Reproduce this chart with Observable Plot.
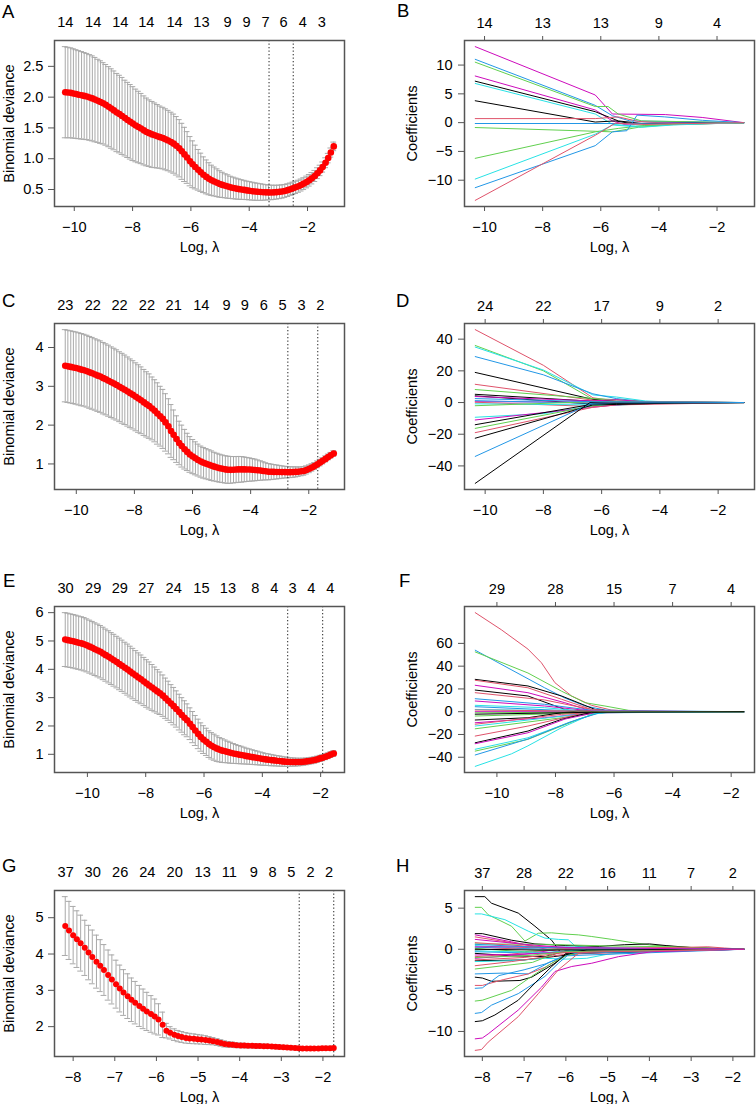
<!DOCTYPE html>
<html><head><meta charset="utf-8">
<script src="https://cdn.jsdelivr.net/npm/d3@7"></script>
<script src="https://cdn.jsdelivr.net/npm/@observablehq/plot@0.6"></script>
<style>
body{margin:0;background:#fff;}
#wrap{position:relative;width:756px;height:1104px;overflow:hidden;background:#fff;}
#wrap svg{position:absolute;overflow:visible;}
</style></head><body><div id="wrap"></div>
<script>
// ---------- Panel A (cross-validation) ----------
const aLogLambda = [-10.31,-10.22,-10.12,-10.03,-9.94,-9.85,-9.75,-9.66,-9.57,-9.47,
-9.38,-9.29,-9.19,-9.10,-9.01,-8.92,-8.82,-8.73,-8.64,-8.54,
-8.45,-8.36,-8.26,-8.17,-8.08,-7.99,-7.89,-7.80,-7.71,-7.61,
-7.52,-7.43,-7.33,-7.24,-7.15,-7.06,-6.96,-6.87,-6.78,-6.68,
-6.59,-6.50,-6.40,-6.31,-6.22,-6.13,-6.03,-5.94,-5.85,-5.75,
-5.66,-5.57,-5.47,-5.38,-5.29,-5.20,-5.10,-5.01,-4.92,-4.82,
-4.73,-4.64,-4.54,-4.45,-4.36,-4.27,-4.17,-4.08,-3.99,-3.89,
-3.80,-3.71,-3.61,-3.52,-3.43,-3.34,-3.24,-3.15,-3.06,-2.96,
-2.87,-2.78,-2.68,-2.59,-2.50,-2.41,-2.31,-2.22,-2.13,-2.03,
-1.94,-1.85,-1.75,-1.66,-1.57,-1.48,-1.38,-1.29,-1.20,-1.10];
const aMean = [2.08,2.075,2.07,2.06,2.05,2.04,2.03,2.02,2.01,1.995,
1.98,1.96,1.94,1.92,1.90,1.875,1.845,1.815,1.785,1.75,
1.725,1.695,1.66,1.63,1.60,1.57,1.54,1.515,1.49,1.46,
1.435,1.415,1.395,1.38,1.365,1.35,1.335,1.315,1.295,1.27,
1.245,1.21,1.17,1.12,1.07,1.02,0.96,0.91,0.865,0.82,
0.78,0.74,0.705,0.675,0.65,0.63,0.61,0.59,0.575,0.56,
0.548,0.535,0.525,0.515,0.507,0.50,0.494,0.486,0.48,0.473,
0.467,0.463,0.459,0.456,0.454,0.453,0.452,0.454,0.457,0.462,
0.468,0.477,0.49,0.505,0.52,0.535,0.553,0.573,0.595,0.622,
0.65,0.683,0.72,0.765,0.81,0.865,0.935,1.01,1.10,1.20];
const aSd = [0.74,0.735,0.73,0.725,0.72,0.715,0.71,0.705,0.70,0.695,
0.69,0.685,0.675,0.67,0.66,0.655,0.65,0.645,0.64,0.635,
0.63,0.625,0.615,0.61,0.605,0.60,0.59,0.58,0.57,0.56,
0.55,0.54,0.535,0.525,0.515,0.505,0.50,0.495,0.49,0.485,
0.48,0.475,0.465,0.455,0.44,0.42,0.40,0.38,0.355,0.33,
0.31,0.29,0.275,0.26,0.245,0.235,0.225,0.215,0.205,0.195,
0.19,0.18,0.175,0.17,0.165,0.16,0.155,0.15,0.148,0.145,
0.142,0.138,0.135,0.13,0.125,0.12,0.118,0.115,0.112,0.11,
0.108,0.105,0.103,0.10,0.10,0.10,0.098,0.097,0.096,0.095,
0.094,0.092,0.09,0.088,0.085,0.082,0.08,0.077,0.074,0.07];
const aLambdaLines = [-3.32, -2.49];
const aTopAt = [-10.31,-9.35,-8.42,-7.53,-6.56,-5.64,-4.74,-4.09,-3.44,-2.82,-2.16,-1.51];
const aTopLab = ["14","14","14","14","14","13","9","9","7","6","4","3"];
const aYTicks = [0.5,1.0,1.5,2.0,2.5];

// ---------- Panel C ----------
const cLogLambda = [-10.38,-10.29,-10.19,-10.10,-10.01,-9.91,-9.82,-9.73,-9.63,-9.54,
-9.45,-9.35,-9.26,-9.17,-9.07,-8.98,-8.89,-8.79,-8.70,-8.61,
-8.51,-8.42,-8.33,-8.23,-8.14,-8.05,-7.95,-7.86,-7.77,-7.67,
-7.58,-7.49,-7.39,-7.30,-7.21,-7.11,-7.02,-6.93,-6.83,-6.74,
-6.65,-6.55,-6.46,-6.37,-6.27,-6.18,-6.09,-5.99,-5.90,-5.81,
-5.71,-5.62,-5.53,-5.43,-5.34,-5.25,-5.15,-5.06,-4.97,-4.87,
-4.78,-4.69,-4.59,-4.50,-4.41,-4.31,-4.22,-4.13,-4.03,-3.94,
-3.85,-3.76,-3.66,-3.57,-3.48,-3.38,-3.29,-3.20,-3.10,-3.01,
-2.92,-2.82,-2.73,-2.64,-2.54,-2.45,-2.36,-2.26,-2.17,-2.08,
-1.98,-1.89,-1.80,-1.70,-1.61,-1.52,-1.42,-1.33,-1.24,-1.14];
const cMean = [3.53,3.515,3.50,3.485,3.47,3.45,3.43,3.415,3.39,3.36,
3.335,3.305,3.275,3.25,3.21,3.18,3.145,3.105,3.07,3.035,
2.99,2.95,2.91,2.865,2.82,2.78,2.73,2.685,2.64,2.585,
2.535,2.49,2.43,2.37,2.30,2.23,2.16,2.07,1.97,1.85,
1.75,1.64,1.54,1.46,1.38,1.31,1.245,1.19,1.145,1.10,
1.06,1.03,1.005,0.98,0.955,0.93,0.91,0.89,0.875,0.86,
0.85,0.848,0.85,0.855,0.86,0.86,0.86,0.858,0.855,0.85,
0.845,0.838,0.83,0.82,0.81,0.80,0.797,0.795,0.793,0.792,
0.79,0.79,0.788,0.788,0.79,0.795,0.80,0.81,0.82,0.845,
0.875,0.91,0.945,0.99,1.035,1.08,1.13,1.18,1.225,1.27];
const cSd = [0.93,0.93,0.93,0.93,0.93,0.93,0.93,0.925,0.925,0.925,
0.925,0.92,0.92,0.92,0.92,0.915,0.915,0.91,0.91,0.905,
0.90,0.90,0.895,0.89,0.885,0.88,0.875,0.87,0.86,0.85,
0.84,0.83,0.81,0.80,0.79,0.77,0.76,0.74,0.71,0.68,
0.64,0.60,0.56,0.54,0.51,0.48,0.46,0.44,0.425,0.41,
0.40,0.395,0.39,0.385,0.38,0.37,0.365,0.36,0.355,0.352,
0.35,0.345,0.34,0.336,0.333,0.33,0.32,0.31,0.30,0.29,
0.28,0.265,0.25,0.235,0.22,0.21,0.20,0.19,0.18,0.17,
0.16,0.15,0.145,0.14,0.135,0.13,0.12,0.115,0.11,0.105,
0.10,0.095,0.09,0.088,0.085,0.08,0.078,0.075,0.072,0.07];
const cLambdaLines = [-2.72, -1.69];
const cTopAt = [-10.38,-9.43,-8.51,-7.57,-6.65,-5.70,-4.83,-4.20,-3.55,-2.90,-2.25,-1.60];
const cTopLab = ["23","22","22","22","21","14","9","9","6","5","3","2"];
const cYTicks = [1,2,3,4];

// ---------- Panel E ----------
const eLogLambda = [-10.76,-10.67,-10.57,-10.48,-10.39,-10.30,-10.20,-10.11,-10.02,-9.92,
-9.83,-9.74,-9.64,-9.55,-9.46,-9.37,-9.27,-9.18,-9.09,-8.99,
-8.90,-8.81,-8.71,-8.62,-8.53,-8.44,-8.34,-8.25,-8.16,-8.06,
-7.97,-7.88,-7.78,-7.69,-7.60,-7.51,-7.41,-7.32,-7.23,-7.13,
-7.04,-6.95,-6.85,-6.76,-6.67,-6.58,-6.48,-6.39,-6.30,-6.20,
-6.11,-6.02,-5.92,-5.83,-5.74,-5.65,-5.55,-5.46,-5.37,-5.27,
-5.18,-5.09,-4.99,-4.90,-4.81,-4.72,-4.62,-4.53,-4.44,-4.34,
-4.25,-4.16,-4.06,-3.97,-3.88,-3.79,-3.69,-3.60,-3.51,-3.41,
-3.32,-3.23,-3.13,-3.04,-2.95,-2.86,-2.76,-2.67,-2.58,-2.48,
-2.39,-2.30,-2.20,-2.11,-2.02,-1.93,-1.83,-1.74,-1.65,-1.55];
const eMean = [5.05,5.03,5.01,4.99,4.965,4.94,4.915,4.885,4.845,4.80,
4.76,4.71,4.665,4.62,4.56,4.50,4.44,4.38,4.32,4.255,
4.19,4.125,4.055,3.99,3.92,3.85,3.78,3.71,3.645,3.57,
3.50,3.43,3.36,3.29,3.22,3.155,3.07,2.98,2.89,2.79,
2.70,2.60,2.49,2.39,2.29,2.20,2.08,1.96,1.84,1.72,
1.61,1.52,1.44,1.36,1.30,1.25,1.20,1.16,1.13,1.105,
1.08,1.055,1.03,1.01,0.99,0.975,0.955,0.935,0.92,0.90,
0.885,0.87,0.85,0.835,0.82,0.81,0.795,0.785,0.772,0.762,
0.752,0.742,0.735,0.73,0.727,0.725,0.726,0.73,0.738,0.75,
0.765,0.78,0.80,0.825,0.855,0.88,0.915,0.95,0.99,1.03];
const eSd = [0.95,0.95,0.945,0.945,0.945,0.94,0.94,0.94,0.935,0.935,
0.93,0.93,0.93,0.925,0.925,0.92,0.92,0.915,0.915,0.91,
0.91,0.905,0.90,0.90,0.895,0.89,0.88,0.87,0.86,0.85,
0.84,0.83,0.81,0.79,0.77,0.75,0.73,0.71,0.69,0.67,
0.66,0.64,0.63,0.61,0.60,0.58,0.56,0.55,0.53,0.52,
0.50,0.49,0.48,0.47,0.465,0.46,0.45,0.43,0.42,0.40,
0.38,0.37,0.35,0.335,0.32,0.31,0.295,0.28,0.27,0.26,
0.25,0.24,0.23,0.22,0.21,0.205,0.20,0.19,0.185,0.18,
0.175,0.165,0.16,0.15,0.145,0.14,0.135,0.13,0.125,0.12,
0.118,0.115,0.113,0.11,0.108,0.106,0.104,0.102,0.101,0.10];
const eLambdaLines = [-3.13, -1.93];
const eTopAt = [-10.75,-9.80,-8.89,-7.98,-7.04,-6.09,-5.18,-4.24,-3.59,-2.96,-2.32,-1.67];
const eTopLab = ["30","29","29","27","24","15","13","8","4","3","4","4"];
const eYTicks = [1,2,3,4,5,6];

// ---------- Panel G ----------
const gLogLambda = [-8.19,-8.10,-8.00,-7.91,-7.82,-7.72,-7.63,-7.54,-7.44,-7.35,
-7.26,-7.16,-7.07,-6.97,-6.88,-6.79,-6.69,-6.60,-6.51,-6.41,
-6.32,-6.23,-6.13,-6.04,-5.95,-5.85,-5.76,-5.67,-5.57,-5.48,
-5.39,-5.29,-5.20,-5.10,-5.01,-4.92,-4.82,-4.73,-4.64,-4.54,
-4.45,-4.36,-4.26,-4.17,-4.08,-3.98,-3.89,-3.80,-3.70,-3.61,
-3.52,-3.42,-3.33,-3.23,-3.14,-3.05,-2.95,-2.86,-2.77,-2.67,
-2.58,-2.49,-2.39,-2.30,-2.21,-2.11,-2.02,-1.93,-1.83,-1.74];
const gMean = [4.77,4.65,4.52,4.41,4.30,4.17,4.04,3.92,3.79,3.68,
3.56,3.42,3.30,3.17,3.05,2.94,2.84,2.74,2.66,2.57,
2.49,2.42,2.35,2.28,2.20,2.05,1.89,1.83,1.78,1.74,
1.715,1.69,1.675,1.665,1.655,1.645,1.63,1.615,1.60,1.575,
1.55,1.525,1.51,1.50,1.49,1.482,1.478,1.475,1.472,1.47,
1.467,1.463,1.46,1.453,1.447,1.44,1.435,1.428,1.42,1.412,
1.405,1.40,1.398,1.397,1.397,1.40,1.403,1.406,1.408,1.41];
const gSd = [0.81,0.80,0.79,0.78,0.77,0.76,0.75,0.74,0.73,0.715,
0.70,0.69,0.675,0.66,0.645,0.63,0.615,0.60,0.585,0.565,
0.545,0.525,0.505,0.48,0.43,0.35,0.20,0.17,0.16,0.155,
0.15,0.145,0.14,0.135,0.13,0.125,0.12,0.11,0.10,0.095,
0.09,0.085,0.08,0.075,0.07,0.065,0.063,0.06,0.06,0.058,
0.057,0.056,0.055,0.054,0.053,0.052,0.051,0.05,0.05,0.05,
0.05,0.05,0.05,0.05,0.05,0.05,0.05,0.05,0.05,0.05];
const gLambdaLines = [-2.57, -1.74];
const gTopAt = [-8.18,-7.53,-6.87,-6.22,-5.56,-4.89,-4.25,-3.66,-3.21,-2.76,-2.30,-1.85];
const gTopLab = ["37","30","26","24","20","13","11","9","8","5","2","2"];
const gYTicks = [2,3,4,5];

// ---------- Coefficient paths (c = R palette slot: 0 black,1 red,2 green,3 blue,4 cyan,5 magenta) ----------
const bPaths = [
{c:5,p:[[-10.32,13.2],[-6.19,4.8],[-5.6,1.5],[-3.78,1.4],[-2.51,0.9],[-1.08,0]]},
{c:3,p:[[-10.32,11.0],[-6.19,3.0],[-5.6,1.2],[-5.0,0.3],[-1.08,0]]},
{c:2,p:[[-10.32,10.5],[-6.19,2.8],[-5.75,2.8],[-5.4,1.5],[-4.6,0.3],[-1.08,0]]},
{c:5,p:[[-10.32,8.1],[-6.19,2.2],[-5.6,0.3],[-5.2,-0.3],[-4.0,0],[-1.08,0]]},
{c:0,p:[[-10.32,7.2],[-6.19,1.9],[-5.4,0.3],[-4.5,-0.2],[-1.08,0]]},
{c:4,p:[[-10.32,6.8],[-6.19,1.5],[-5.6,-0.3],[-4.8,-0.6],[-3.5,-0.3],[-1.08,0]]},
{c:0,p:[[-10.32,3.8],[-6.19,0.1],[-5.5,0.3],[-4.9,-0.2],[-1.08,0]]},
{c:1,p:[[-10.32,0.7],[-6.19,0.7],[-5.4,1.0],[-4.7,0.2],[-3.0,-0.3],[-1.08,0]]},
{c:3,p:[[-10.32,-0.15],[-5.5,-0.15],[-1.08,0]]},
{c:2,p:[[-10.32,-0.85],[-6.19,-1.5],[-5.6,-1.6],[-4.7,-0.8],[-3.3,-0.2],[-1.08,0]]},
{c:2,p:[[-10.32,-6.2],[-6.19,-1.6],[-5.4,-1.0],[-4.5,-0.5],[-1.08,0]]},
{c:4,p:[[-10.32,-9.8],[-6.19,-2.0],[-5.6,-0.4],[-4.6,-0.8],[-3.5,-0.4],[-1.08,0]]},
{c:3,p:[[-10.32,-11.3],[-6.19,-4.0],[-5.6,-1.6],[-5.1,-1.4],[-4.75,1.3],[-3.8,1.0],[-2.5,0.4],[-1.08,0]]},
{c:1,p:[[-10.32,-13.5],[-6.19,-2.2],[-5.5,-0.1],[-4.5,-0.3],[-1.08,0]]}];
const bTicks = [-10,-8,-6,-4,-2];
const bTopLab = ["14","13","13","9","4"];
const bYTicks = [-10,-5,0,5,10];

const dPaths = [
{c:1,p:[[-10.34,46],[-8.0,23.5],[-6.3,3.0],[-5.5,1.0],[-4.5,0.2],[-1.12,0]]},
{c:2,p:[[-10.34,36],[-8.0,20],[-6.3,2.0],[-5.5,0.8],[-4.5,0.2],[-1.12,0]]},
{c:4,p:[[-10.34,35],[-8.0,20.5],[-6.3,4.8],[-5.5,3.5],[-4.5,1.0],[-3.5,0.2],[-1.12,0]]},
{c:3,p:[[-10.34,29],[-8.0,17.5],[-6.3,5.5],[-5.5,2.5],[-4.5,0.5],[-1.12,0]]},
{c:0,p:[[-10.34,19],[-6.3,2.0],[-5.5,0.5],[-4.5,0],[-1.12,0]]},
{c:1,p:[[-10.34,11.5],[-6.3,1.5],[-5.5,0.3],[-1.12,0]]},
{c:2,p:[[-10.34,8.2],[-6.3,2.5],[-5.5,1.8],[-4.5,0.5],[-1.12,0]]},
{c:0,p:[[-10.34,5.2],[-6.3,0.8],[-5.5,0.2],[-1.12,0]]},
{c:0,p:[[-10.34,4.2],[-6.3,-1.0],[-5.5,-0.5],[-4.5,-0.1],[-1.12,0]]},
{c:5,p:[[-10.34,3.8],[-6.3,1.0],[-5.5,1.8],[-4.5,0.4],[-1.12,0]]},
{c:5,p:[[-10.34,0.5],[-6.3,0.3],[-1.12,0]]},
{c:3,p:[[-10.34,1.2],[-6.3,-0.5],[-1.12,0]]},
{c:1,p:[[-10.34,0.2],[-6.3,-2.5],[-5.5,-1.5],[-4.5,-0.3],[-1.12,0]]},
{c:4,p:[[-10.34,-0.8],[-6.3,-1.5],[-5.5,-1.8],[-4.5,-0.5],[-1.12,0]]},
{c:2,p:[[-10.34,-2],[-6.3,0.5],[-1.12,0]]},
{c:4,p:[[-10.34,-9.3],[-8.0,-7.0],[-6.3,-2.0],[-5.5,-1.0],[-1.12,0]]},
{c:5,p:[[-10.34,-11],[-6.3,-3.0],[-5.5,-1.5],[-4.5,-0.3],[-1.12,0]]},
{c:0,p:[[-10.34,-14],[-6.3,-1.0],[-5.5,-0.5],[-1.12,0]]},
{c:2,p:[[-10.34,-16.3],[-6.3,-2.0],[-5.5,-0.8],[-1.12,0]]},
{c:1,p:[[-10.34,-19],[-6.3,-3.0],[-5.5,-1.5],[-1.12,0]]},
{c:0,p:[[-10.34,-22.5],[-6.3,-1.5],[-5.5,-1.2],[-4.5,-0.8],[-3.5,-0.2],[-1.12,0]]},
{c:3,p:[[-10.34,-34],[-6.4,-1.0],[-5.5,-0.5],[-1.12,0]]},
{c:0,p:[[-10.34,-51],[-6.4,0],[-5.5,-0.5],[-1.12,0]]},
{c:3,p:[[-10.34,2.5],[-6.3,0.5],[-1.12,0]]}];
const dTicks = [-10,-8,-6,-4,-2];
const dTopLab = ["24","22","17","9","2"];
const dYTicks = [-40,-20,0,20,40];

const fPaths = [
{c:1,p:[[-10.74,87],[-9.85,72],[-8.94,55],[-8.48,43],[-8.02,25.5],[-7.45,13.8],[-6.77,5.6],[-6.1,1.5],[-5.0,0],[-1.57,0]]},
{c:3,p:[[-10.74,54],[-8.37,21],[-7.68,12],[-6.99,5],[-6.31,1.5],[-5.0,0.2],[-1.57,0]]},
{c:2,p:[[-10.74,52.5],[-8.94,34],[-7.79,18],[-6.99,7.9],[-6.31,5],[-5.5,1.2],[-4.5,0],[-1.57,0]]},
{c:0,p:[[-10.74,28.4],[-8.94,22.6],[-7.79,13.8],[-6.65,2],[-6.0,0.3],[-1.57,0]]},
{c:1,p:[[-10.74,27.6],[-8.94,21],[-7.79,10.9],[-6.77,2],[-6.0,0.2],[-1.57,0]]},
{c:5,p:[[-10.74,23.2],[-8.94,16.7],[-7.68,7.9],[-6.77,0.6],[-1.57,0]]},
{c:0,p:[[-10.74,19],[-8.94,13.8],[-7.68,2],[-7.22,-0.9],[-6.5,-0.3],[-1.57,0]]},
{c:1,p:[[-10.74,16.7],[-8.37,10.3],[-6.77,2],[-6.0,0.3],[-1.57,0]]},
{c:3,p:[[-10.74,11.4],[-8.37,6.5],[-6.77,1.2],[-1.57,0]]},
{c:5,p:[[-10.74,9.4],[-8.37,5],[-6.77,0.6],[-1.57,0]]},
{c:4,p:[[-10.74,5.6],[-8.37,3.5],[-6.77,0],[-1.57,0]]},
{c:3,p:[[-10.74,4.4],[-6.77,0],[-1.57,0]]},
{c:4,p:[[-10.74,2.0],[-6.77,0.3],[-1.57,0]]},
{c:5,p:[[-10.74,0],[-6.5,0],[-1.57,0]]},
{c:2,p:[[-10.74,-3.8],[-6.77,-0.9],[-6.0,0],[-1.57,0]]},
{c:0,p:[[-10.74,-7.3],[-8.94,-5.3],[-7.79,-0.9],[-7.22,0.6],[-6.5,0],[-1.57,0]]},
{c:5,p:[[-10.74,-9.7],[-8.37,-5.3],[-6.77,-0.9],[-1.57,0]]},
{c:1,p:[[-10.74,-11],[-7.79,-2.3],[-6.77,-0.9],[-1.57,0]]},
{c:4,p:[[-10.74,-12.6],[-7.22,-2.3],[-6.3,0],[-1.57,0]]},
{c:2,p:[[-10.74,-15],[-7.79,-5.3],[-6.77,-1.8],[-6.0,0],[-1.57,0]]},
{c:1,p:[[-10.74,-21.4],[-8.94,-12.6],[-7.22,-2.3],[-6.3,0],[-1.57,0]]},
{c:0,p:[[-10.74,-27.3],[-8.94,-17],[-7.79,-6.7],[-6.99,-1.8],[-6.3,0],[-1.57,0]]},
{c:5,p:[[-10.74,-28.1],[-8.94,-18.5],[-7.68,-6.5],[-6.77,-1.5],[-6.0,0],[-1.57,0]]},
{c:4,p:[[-10.74,-33],[-8.94,-22.9],[-7.22,-6.7],[-6.54,-0.9],[-6.0,0],[-1.57,0]]},
{c:2,p:[[-10.74,-34.6],[-8.94,-24.3],[-7.22,-6.7],[-6.54,-0.9],[-6.0,0],[-1.57,0]]},
{c:4,p:[[-10.74,-48],[-9.5,-37],[-8.94,-30],[-7.79,-14],[-6.77,-2.3],[-6.0,0],[-1.57,0]]},
{c:3,p:[[-10.74,-38],[-8.94,-24],[-7.5,-9],[-6.5,-1],[-1.57,0]]},
{c:1,p:[[-10.74,1.5],[-6.77,0.5],[-1.57,0]]},
{c:2,p:[[-10.74,-1.0],[-6.77,-0.3],[-1.57,0]]},
{c:0,p:[[-10.74,-2.2],[-6.77,-0.5],[-1.57,0]]}];
const fTicks = [-10,-8,-6,-4,-2];
const fTopLab = ["29","28","15","7","4"];
const fYTicks = [-40,-20,0,20,40,60];

const hPaths = [
{c:0,p:[[-8.17,6.4],[-7.94,6.4],[-7.78,5.6],[-7.14,4.4],[-6.74,2.8],[-6.34,1.1],[-6.14,-0.3],[-6.0,-0.3],[-5.5,0.1],[-1.74,0]]},
{c:2,p:[[-8.17,5.1],[-8.02,5.1],[-7.86,4.2],[-7.3,2.8],[-6.98,1.0],[-6.66,1.95],[-6.34,2.0],[-6.02,1.85],[-5.7,1.75],[-5.38,1.55],[-4.9,1.2],[-4.4,0.8],[-3.94,0.5],[-3.3,0.3],[-2.5,0.1],[-1.74,0]]},
{c:4,p:[[-8.17,4.3],[-8.02,4.3],[-7.46,3.6],[-6.9,2.2],[-6.5,1.35],[-6.18,1.2],[-5.94,1.15],[-5.78,0.4],[-5.4,0.1],[-1.74,0]]},
{c:0,p:[[-8.17,1.9],[-8.0,1.9],[-7.3,1.1],[-6.74,0.65],[-6.0,0.45],[-5.2,0.35],[-4.6,0.55],[-4.0,0.65],[-3.6,0.45],[-3.0,0.2],[-1.74,0]]},
{c:5,p:[[-8.17,1.75],[-7.3,0.9],[-6.74,0.3],[-6.2,-0.3],[-5.5,-0.2],[-1.74,0]]},
{c:1,p:[[-8.17,1.5],[-7.3,0.8],[-6.5,0.2],[-5.5,0],[-1.74,0]]},
{c:2,p:[[-8.17,0.65],[-6.5,0.6],[-5.0,0.4],[-3.5,0.3],[-1.74,0]]},
{c:4,p:[[-8.17,0.45],[-7.0,0.1],[-6.0,0.3],[-4.5,0.1],[-1.74,0]]},
{c:3,p:[[-8.17,0.25],[-6.5,0],[-5.0,-0.1],[-1.74,0]]},
{c:1,p:[[-8.17,-0.1],[-7.0,0.2],[-5.5,0.1],[-3.0,0.25],[-2.6,0.3],[-2.2,0.15],[-1.74,0]]},
{c:3,p:[[-8.17,-0.3],[-6.5,-0.5],[-5.5,-0.2],[-4.5,-0.1],[-1.74,0]]},
{c:0,p:[[-8.17,-0.5],[-7.3,-0.8],[-6.5,-0.9],[-6.0,-0.2],[-1.74,0]]},
{c:1,p:[[-8.17,-0.9],[-7.3,-0.6],[-6.8,-0.3],[-6.0,0],[-1.74,0]]},
{c:5,p:[[-8.17,-1.1],[-7.6,-0.9],[-6.8,-0.5],[-6.0,0.2],[-5.0,0.05],[-1.74,0]]},
{c:0,p:[[-8.17,-1.4],[-7.0,-1.3],[-6.3,-0.9],[-5.5,-0.4],[-4.5,-0.1],[-1.74,0]]},
{c:4,p:[[-8.17,-1.5],[-7.3,-1.4],[-6.5,-1.1],[-6.0,-1.2],[-5.5,-1.1],[-5.0,-0.6],[-4.0,-0.2],[-1.74,0]]},
{c:1,p:[[-8.17,-2.0],[-7.3,-1.5],[-6.6,-1.0],[-6.0,-0.6],[-1.74,0]]},
{c:2,p:[[-8.17,-2.4],[-7.5,-2.0],[-6.8,-1.6],[-6.2,-0.4],[-1.74,0]]},
{c:3,p:[[-8.17,-3.0],[-7.5,-2.9],[-6.9,-3.0],[-6.4,-1.6],[-6.0,-0.7],[-5.5,-0.3],[-4.5,-0.4],[-4.0,-0.15],[-1.74,0]]},
{c:0,p:[[-8.17,-3.4],[-8.0,-3.5],[-7.78,-3.9],[-7.1,-3.8],[-6.82,-3.4],[-6.26,-1.7],[-6.0,-0.5],[-1.74,0]]},
{c:1,p:[[-8.17,-4.4],[-8.0,-4.4],[-7.5,-3.7],[-6.9,-3.0],[-6.5,-2.2],[-6.1,-1.0],[-5.8,-0.3],[-1.74,0]]},
{c:3,p:[[-8.17,-4.75],[-8.0,-4.7],[-7.6,-3.2],[-7.0,-2.5],[-6.5,-1.8],[-6.0,-0.8],[-1.74,0]]},
{c:2,p:[[-8.17,-6.3],[-8.0,-6.2],[-7.3,-5.0],[-6.82,-3.3],[-6.34,-1.7],[-6.0,-0.8],[-5.5,-0.2],[-1.74,0]]},
{c:3,p:[[-8.17,-7.8],[-8.02,-7.7],[-7.78,-6.8],[-7.14,-5.4],[-6.5,-3.3],[-6.18,-1.7],[-5.9,-0.5],[-1.74,0]]},
{c:0,p:[[-8.17,-8.8],[-8.0,-8.7],[-7.7,-8.0],[-7.14,-6.2],[-6.66,-3.7],[-6.34,-2.1],[-6.02,-0.7],[-5.5,0],[-1.74,0]]},
{c:5,p:[[-8.17,-10.9],[-8.0,-10.8],[-7.86,-10.3],[-7.14,-7.4],[-6.58,-4.6],[-6.26,-2.7],[-5.86,-2.1],[-5.38,-1.7],[-4.74,-0.9],[-3.94,-0.3],[-1.74,0]]},
{c:1,p:[[-8.17,-12.3],[-8.02,-12.2],[-7.86,-11.3],[-7.14,-8.2],[-6.66,-5.4],[-6.18,-2.5],[-5.7,-0.5],[-5.0,-0.1],[-1.74,0]]},
{c:5,p:[[-8.17,0.3],[-6.5,0.3],[-5.0,0.1],[-1.74,0]]},
{c:2,p:[[-8.17,0.1],[-7.0,-0.3],[-6.0,0.1],[-1.74,0]]},
{c:4,p:[[-8.17,-0.2],[-6.5,-0.4],[-5.5,0],[-1.74,0]]},
{c:1,p:[[-8.17,0.8],[-7.0,0.4],[-6.0,0.1],[-1.74,0]]},
{c:5,p:[[-8.17,-0.7],[-7.0,-0.6],[-6.0,-0.3],[-1.74,0]]},
{c:3,p:[[-8.17,0.6],[-6.5,0.2],[-1.74,0]]},
{c:0,p:[[-8.17,0.0],[-6.5,-0.1],[-1.74,0]]},
{c:2,p:[[-8.17,-1.0],[-7.0,-0.8],[-6.0,-0.3],[-1.74,0]]},
{c:1,p:[[-8.17,-1.3],[-7.0,-1.0],[-6.0,-0.4],[-1.74,0]]},
{c:5,p:[[-8.17,1.2],[-7.0,0.6],[-6.0,0.2],[-1.74,0]]}];
const hTicks = [-8,-7,-6,-5,-4,-3,-2];
const hTopLab = ["37","28","22","16","11","7","2"];
const hYTicks = [-10,-5,0,5];

const cvXTicks = [-10,-8,-6,-4,-2];
const gXTicks = [-8,-7,-6,-5,-4,-3,-2];
const panelTags = ["A","B","C","D","E","F","G","H"];

// ---------- drawing ----------
const PAL = ["#000000","#DF536B","#61D04F","#2297E6","#28E2E5","#CD0BBC"];
const FONT = "'Liberation Sans', Arial, Helvetica, sans-serif";
const FS = "14.6px";
const BOX = "#555";
const W = 378, H = 254;
const rowTop = [0, 283, 566, 850];

function expand([a, b]) { const r = b - a; return [a - 0.04 * r, b + 0.04 * r]; }

function cvPanel(x, mean, sd, lines, topAt, topLab, yTicks, xTicks, yFmt, dotR) {
  const rows = x.map((v, i) => ({x: v, m: mean[i], lo: mean[i] - sd[i], hi: mean[i] + sd[i]}));
  const xd = expand(d3.extent(x));
  const yd = expand([d3.min(rows, d => d.lo), d3.max(rows, d => d.hi)]);
  const barw = 0.01 * (xd[1] - xd[0]);
  const tops = topAt.map((a, i) => ({a, t: topLab[i]}));
  return Plot.plot({
    width: W, height: H, marginTop: 40, marginBottom: 48, marginLeft: 54, marginRight: 34,
    style: {fontFamily: FONT, fontSize: FS, color: "#000", background: "transparent", overflow: "visible"},
    x: {domain: xd}, y: {domain: yd},
    marks: [
      Plot.ruleX(rows, {x: "x", y1: "lo", y2: "hi", stroke: "#a9a9a9", strokeWidth: 1}),
      Plot.ruleY(rows, {y: "hi", x1: d => d.x - barw, x2: d => d.x + barw, stroke: "#a9a9a9", strokeWidth: 1}),
      Plot.ruleY(rows, {y: "lo", x1: d => d.x - barw, x2: d => d.x + barw, stroke: "#a9a9a9", strokeWidth: 1}),
      Plot.ruleX(lines, {stroke: "#222", strokeWidth: 1, strokeDasharray: "1.3,2.2"}),
      Plot.dot(rows, {x: "x", y: "m", r: dotR, fill: "#ff0000", stroke: null}),
      Plot.frame({stroke: BOX, strokeWidth: 1.5}),
      Plot.axisX(xTicks, {tickSize: 5, tickPadding: 10, stroke: BOX, label: "Log, λ", labelAnchor: "center", labelOffset: 45, labelArrow: "none"}),
      Plot.axisY(yTicks, {tickSize: 6, tickPadding: 5, stroke: BOX, tickFormat: yFmt, label: "Binomial deviance", labelAnchor: "center", labelOffset: 51, labelArrow: "none"}),
      Plot.text(tops, {x: "a", text: "t", frameAnchor: "top", dy: -18, lineAnchor: "middle", fill: "#000"})
    ]
  });
}

function coefPanel(paths, ticks, topLab, yTicks) {
  const pts = paths.flatMap((L, j) => L.p.map(([x, y]) => ({x, y, j, col: PAL[L.c]})));
  const xd = expand(d3.extent(pts, d => d.x));
  const yd = expand(d3.extent(pts, d => d.y));
  return Plot.plot({
    width: W, height: H, marginTop: 40, marginBottom: 48, marginLeft: 86, marginRight: 2,
    style: {fontFamily: FONT, fontSize: FS, color: "#000", background: "transparent", overflow: "visible"},
    x: {domain: xd}, y: {domain: yd}, color: {type: "identity"},
    marks: [
      Plot.line(pts, {x: "x", y: "y", z: "j", stroke: "col", strokeWidth: 1}),
      Plot.frame({stroke: BOX, strokeWidth: 1.5}),
      Plot.axisX(ticks, {tickSize: 5, tickPadding: 10, stroke: BOX, label: "Log, λ", labelAnchor: "center", labelOffset: 45, labelArrow: "none"}),
      Plot.axisX(ticks, {anchor: "top", tickSize: 5, tickPadding: 8, stroke: BOX, tickFormat: d => topLab[ticks.indexOf(d)], label: null}),
      Plot.axisY(yTicks, {tickSize: 6, tickPadding: 6, stroke: BOX, label: "Coefficients", labelAnchor: "center", labelOffset: 58, labelArrow: "none"})
    ]
  });
}

const wrap = document.getElementById("wrap");
const f1 = d3.format(".1f");
const panels = [
  [cvPanel(aLogLambda, aMean, aSd, aLambdaLines, aTopAt, aTopLab, aYTicks, cvXTicks, f1, 3.3), 0, 0],
  [coefPanel(bPaths, bTicks, bTopLab, bYTicks), 378, 0],
  [cvPanel(cLogLambda, cMean, cSd, cLambdaLines, cTopAt, cTopLab, cYTicks, cvXTicks, undefined, 3.3), 0, 1],
  [coefPanel(dPaths, dTicks, dTopLab, dYTicks), 378, 1],
  [cvPanel(eLogLambda, eMean, eSd, eLambdaLines, eTopAt, eTopLab, eYTicks, cvXTicks, undefined, 3.3), 0, 2],
  [coefPanel(fPaths, fTicks, fTopLab, fYTicks), 378, 2],
  [cvPanel(gLogLambda, gMean, gSd, gLambdaLines, gTopAt, gTopLab, gYTicks, gXTicks, undefined, 3.0), 0, 3],
  [coefPanel(hPaths, hTicks, hTopLab, hYTicks), 378, 3]
];
for (const [svg, left, row] of panels) {
  svg.style.left = left + "px";
  svg.style.top = rowTop[row] + "px";
  wrap.appendChild(svg);
}

// panel tags
const tagPos = [[2,18],[397,17],[2,307],[396,307],[3,587],[399,587],[2,872],[396,872]];
const ov = d3.select(wrap).append("svg")
  .attr("width", 756).attr("height", 1104)
  .style("left", "0px").style("top", "0px").style("pointer-events", "none");
ov.selectAll("text").data(panelTags).join("text")
  .attr("x", (d, i) => tagPos[i][0]).attr("y", (d, i) => tagPos[i][1])
  .attr("font-family", FONT).attr("font-size", 18.5).attr("fill", "#000")
  .text(d => d);
</script></body></html>
